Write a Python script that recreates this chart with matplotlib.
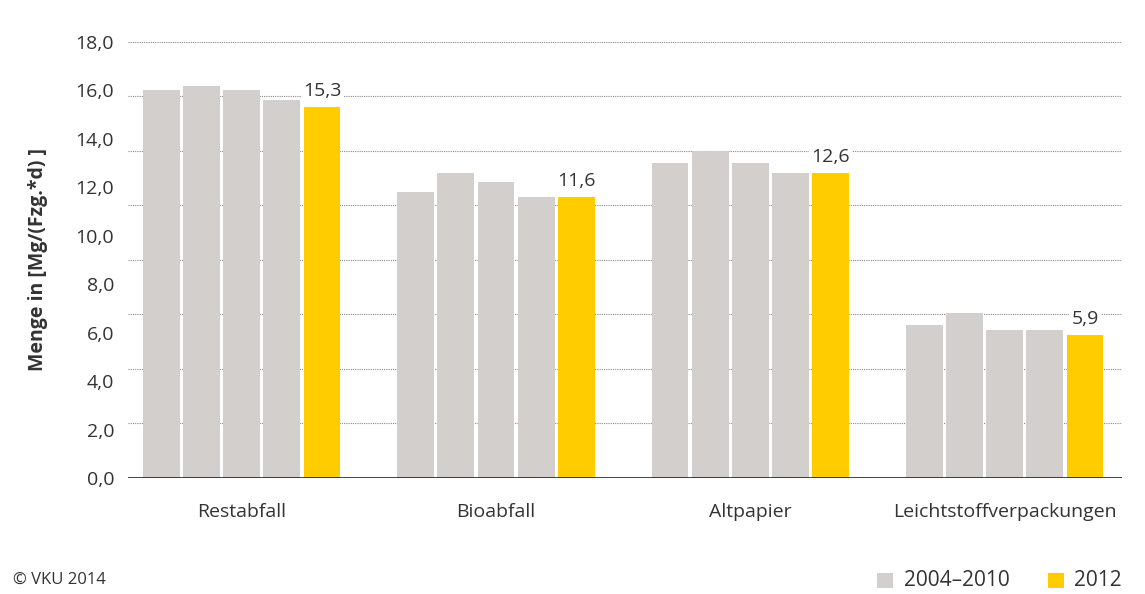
import numpy as np
import matplotlib.pyplot as plt
from matplotlib.patches import Rectangle

# =====================================================
# DATA
# =====================================================

categories = ["Restabfall", "Bioabfall", "Altpapier", "Leichtstoffverpackungen"]

# four gray bars per category (2004-2010)
gray_values = [
    [16.0, 16.2, 16.0, 15.6],
    [11.8, 12.6, 12.2, 11.6],
    [13.0, 13.5, 13.0, 12.6],
    [6.3, 6.8, 6.1, 6.1],
]

values_2012 = [15.3, 11.6, 12.6, 5.9]
labels_2012 = ["15,3", "11,6", "12,6", "5,9"]

legend_labels = ["2004\u20132010", "2012"]

y_ticks = [0, 2, 4, 6, 8, 10, 12, 14, 16, 18]
y_ticklabels = ["0,0", "2,0", "4,0", "6,0", "8,0", "10,0", "12,0", "14,0", "16,0", "18,0"]

GRAY = "#d3cfcd"
YELLOW = "#ffcc00"
TEXT = "#333333"

plt.rcParams["font.family"] = ["Open Sans", "DejaVu Sans"]

fig = plt.figure(figsize=(11.45, 5.94), dpi=100)
ax = fig.add_axes([0.1118, 0.1953, 0.8682, 0.734])

pitch = 0.158
width = 0.145
x = np.arange(len(categories))

for i in range(4):
    ax.bar(x + (i - 2) * pitch, [g[i] for g in gray_values], width=width, color=GRAY, zorder=2)

ax.bar(x + 2 * pitch, values_2012, width=width, color=YELLOW, zorder=2)

for xi, v, lab in zip(x, values_2012, labels_2012):
    ax.text(xi + 2 * pitch, v + 0.3, lab, ha="center", va="bottom", fontsize=14,
            color=TEXT, zorder=3,
            bbox=dict(facecolor="white", edgecolor="none", pad=1.5))

# gridlines as drawn in the original (8 equal intervals)
for gy in np.linspace(0, 18, 9)[1:]:
    ax.axhline(gy, color="#888888", linestyle=(0, (1, 1)), linewidth=0.8, zorder=1)
ax.axhline(0, color="#222222", linewidth=1.2, zorder=3)

ax.set_xlim(-0.447, 3.462)
ax.set_ylim(0, 18)
ax.set_yticks(y_ticks)
ax.set_yticklabels(y_ticklabels, fontsize=14, color=TEXT)
ax.tick_params(axis="y", length=0, pad=10)
ax.set_xticks(x)
ax.set_xticklabels(categories, fontsize=14, color=TEXT)
ax.tick_params(axis="x", length=0, pad=18)

for s in ax.spines.values():
    s.set_visible(False)

ax.set_ylabel("Menge in [Mg/(Fzg.*d) ]", fontsize=14, fontweight="bold", color=TEXT, labelpad=20)

fig.text(0.011, 0.0236, "\u00a9 VKU 2014", fontsize=12, color=TEXT, ha="left", va="center")

# legend drawn in figure coordinates
for x0, col, tx, lab in [(0.766, GRAY, 0.7895, legend_labels[0]),
                         (0.9153, YELLOW, 0.938, legend_labels[1])]:
    fig.patches.append(Rectangle((x0, 0.0101), 0.014, 0.0253, transform=fig.transFigure,
                                 facecolor=col, edgecolor="none"))
    fig.text(tx, 0.0227, lab, fontsize=15, color=TEXT, ha="left", va="center")

fig.savefig("out.png", dpi=100)
